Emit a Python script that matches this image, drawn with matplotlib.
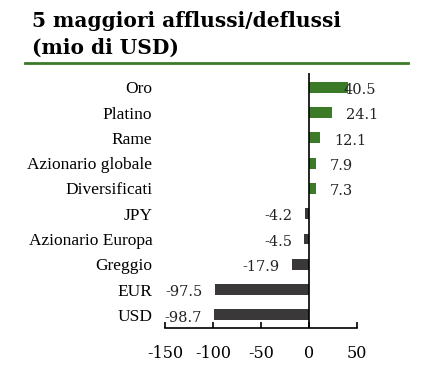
import matplotlib.pyplot as plt
import numpy as np

categories = ['Oro', 'Platino', 'Rame', 'Azionario globale', 'Diversificati',
              'JPY', 'Azionario Europa', 'Greggio', 'EUR', 'USD']
values = [40.5, 24.1, 12.1, 7.9, 7.3, -4.2, -4.5, -17.9, -97.5, -98.7]
labels = ['40.5', '24.1', '12.1', '7.9', '7.3', '-4.2', '-4.5', '-17.9', '-97.5', '-98.7']
xticks = [-150, -100, -50, 0, 50]

green = '#3b7a26'
dark = '#3a3838'

fig = plt.figure(figsize=(4.42, 3.83), dpi=100)
ax = fig.add_axes([0.373, 0.1436, 0.434, 0.665])

y = np.arange(len(categories))
colors = [green if v > 0 else dark for v in values]
ax.barh(y, values, height=0.43, color=colors)

for yi, v, lab in zip(y, values, labels):
    if v > 0:
        # the largest label is pushed back inside the plot area, as in the original
        dx = 10 if v < 30 else -3
        ax.annotate(lab, (v, yi), xytext=(dx, -2), textcoords='offset points',
                    ha='left', va='center', fontsize=10.5, family='DejaVu Serif',
                    color='#222222', annotation_clip=False)
    else:
        ax.annotate(lab, (v, yi), xytext=(-9, -2), textcoords='offset points',
                    ha='right', va='center', fontsize=10.5, family='DejaVu Serif',
                    color='#222222', annotation_clip=False)

ax.set_xlim(-150, 50)
ax.set_ylim(9.52, -0.55)
ax.axvline(0, color='black', lw=1.2)

ax.set_yticks(y)
ax.set_yticklabels(categories, family='Liberation Serif', fontsize=12.5)
ax.tick_params(axis='y', length=0, pad=9)
ax.set_xticks(xticks)
ax.set_xticklabels([str(t) for t in xticks], family='DejaVu Serif', fontsize=11.5)
ax.tick_params(axis='x', direction='in', length=4, width=1.2, pad=12)

for s in ['top', 'right', 'left']:
    ax.spines[s].set_visible(False)
ax.spines['bottom'].set_linewidth(1.2)

fig.text(0.072, 0.945, '5 maggiori afflussi/deflussi', family='DejaVu Serif',
         fontweight='bold', fontsize=14.5, va='center')
fig.text(0.072, 0.875, '(mio di USD)', family='DejaVu Serif',
         fontweight='bold', fontsize=14.5, va='center')
fig.add_artist(plt.Line2D([0.057, 0.923], [0.835, 0.835], color=green, lw=2))

fig.savefig('out.png', dpi=100)
